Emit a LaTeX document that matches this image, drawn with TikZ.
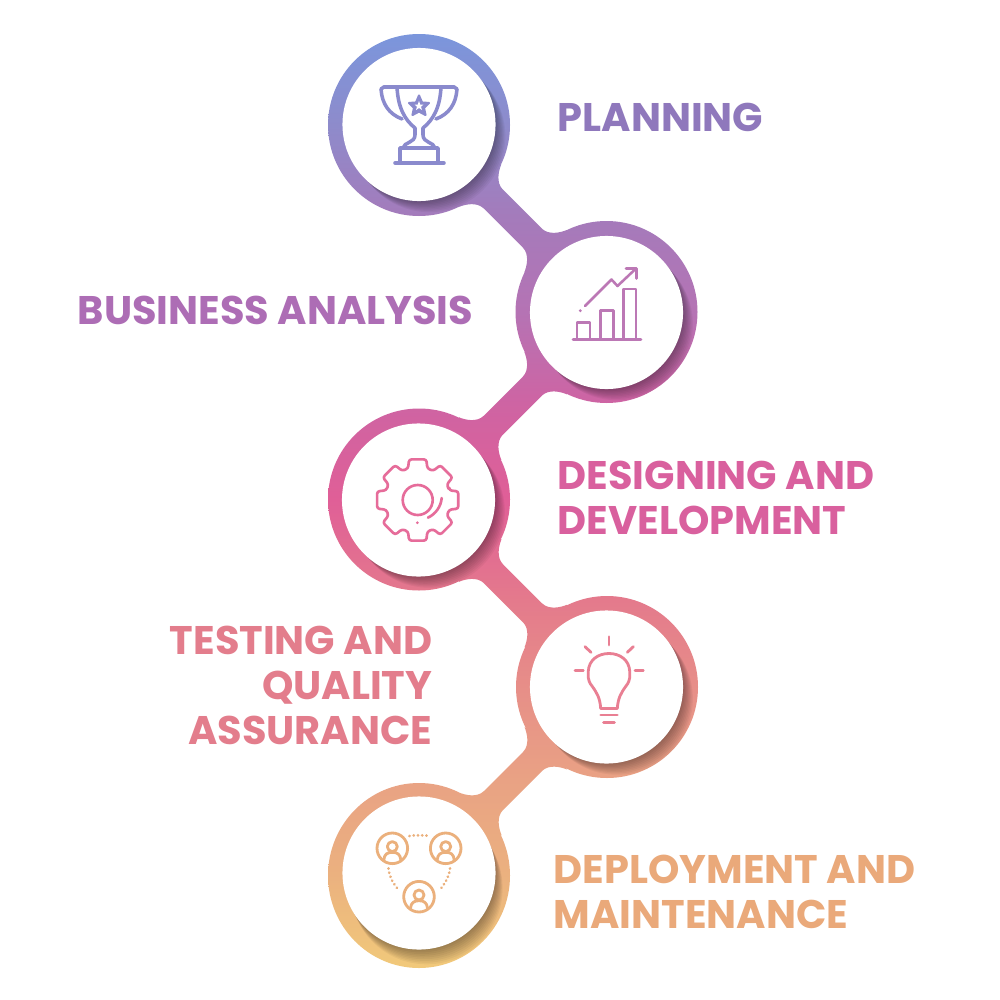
\documentclass[tikz,border=0pt]{standalone}
\usepackage{fontspec}
\setmainfont{Poppins}
\usepackage{xcolor}
\usetikzlibrary{calc}
\definecolor{TrophyInk}{HTML}{8A8ACD}
\definecolor{ChartInk}{HTML}{BC78B5}
\definecolor{GearInk}{HTML}{E66C9A}
\definecolor{BulbInk}{HTML}{E97F93}
\definecolor{PeopleInk}{HTML}{EBB07C}
\definecolor{PlanningText}{HTML}{8F78BC}
\definecolor{BusinessText}{HTML}{AD6DB5}
\definecolor{DesignText}{HTML}{D9609E}
\definecolor{TestingText}{HTML}{E37D8C}
\definecolor{DeployText}{HTML}{EAA97A}
\definecolor{RibbonA}{HTML}{7B96DC}
\definecolor{RibbonB}{HTML}{8E8BCB}
\definecolor{RibbonC}{HTML}{A47BBB}
\definecolor{RibbonD}{HTML}{B573B4}
\definecolor{RibbonE}{HTML}{CE64A3}
\definecolor{RibbonF}{HTML}{E05F97}
\definecolor{RibbonG}{HTML}{E47A8C}
\definecolor{RibbonH}{HTML}{E78F88}
\definecolor{RibbonI}{HTML}{E9A284}
\definecolor{RibbonJ}{HTML}{EBB17F}
\definecolor{RibbonK}{HTML}{F1C97A}
\pgfdeclareverticalshading{ribbon}{100bp}{%
  color(0bp)=(RibbonK); color(25bp)=(RibbonK); color(29.98bp)=(RibbonJ);
  color(35.06bp)=(RibbonI); color(39.88bp)=(RibbonH); color(44.7bp)=(RibbonG);
  color(50.05bp)=(RibbonF); color(55.25bp)=(RibbonE); color(60.1bp)=(RibbonD);
  color(65.26bp)=(RibbonC); color(70.1bp)=(RibbonB); color(75bp)=(RibbonA);
  color(100bp)=(RibbonA)}
\newcommand{\StepLabel}{\fontsize{11.35}{12.8}\selectfont\bfseries}
\tikzset{
  disc/.style={circle,fill=white,minimum size=1.53cm,inner sep=0pt},
  step label/.style={font=\StepLabel,inner sep=0pt},
  icon line/.style={line width=0.8pt,line cap=round,line join=round}
}
% neck running down and to the right, wound like the rings
\newcommand{\neckright}[2]{
  ({#1+54},{#2+11.5}) -- ({#1+11.5},{#2+54})
  .. controls ({#1+14},{#2+48}) and ({#1+17},{#2+36}) .. ({#1+10},{#2+29})
  -- ({#1-29},{#2-10})
  .. controls ({#1-36},{#2-17}) and ({#1-48},{#2-14}) .. ({#1-54},{#2-11.5})
  -- ({#1-11.5},{#2-54})
  .. controls ({#1-14},{#2-48}) and ({#1-17},{#2-36}) .. ({#1-10},{#2-29})
  -- ({#1+29},{#2+10})
  .. controls ({#1+36},{#2+17}) and ({#1+48},{#2+14}) .. ({#1+54},{#2+11.5}) -- cycle
}
% same neck mirrored, so the point order runs the other way
\newcommand{\neckleft}[2]{
  ({#1-54},{#2+11.5})
  .. controls ({#1-48},{#2+14}) and ({#1-36},{#2+17}) .. ({#1-29},{#2+10})
  -- ({#1+10},{#2-29})
  .. controls ({#1+17},{#2-36}) and ({#1+14},{#2-48}) .. ({#1+11.5},{#2-54})
  -- ({#1+54},{#2-11.5})
  .. controls ({#1+48},{#2-14}) and ({#1+36},{#2-17}) .. ({#1+29},{#2-10})
  -- ({#1-10},{#2+29})
  .. controls ({#1-17},{#2+36}) and ({#1-14},{#2+48}) .. ({#1-11.5},{#2+54})
  -- cycle
}
\newcommand{\ribbonpath}{
  (419,125) circle[radius=91]
  (606.5,312) circle[radius=91]
  (419,499.5) circle[radius=91]
  (607,687) circle[radius=91]
  (419,875.5) circle[x radius=91,y radius=92.5]
  \neckright{512.75}{218.5}
  \neckleft{512.75}{405.75}
  \neckright{513}{593.25}
  \neckleft{513}{781}
}
\newcommand{\discshadow}[4]{
  \foreach \k in {1,...,9}{
    \fill[black,opacity=0.045] ({#1+\k*#3},{#2+\k*#4}) circle[radius=76];
  }
}

\begin{document}
\begin{tikzpicture}[x=0.01cm,y=-0.01cm]
  \path[use as bounding box,fill=white] (0,0) rectangle (1000,1000);

  \path[shading=ribbon] \ribbonpath;
  \begin{scope}
    \clip \ribbonpath;
    \discshadow{419}{124.5}{1.15}{1.3}
    \discshadow{606.5}{312.5}{1.15}{1.3}
    \discshadow{418.5}{500}{1.15}{1.3}
    \discshadow{606.5}{687}{1.15}{1.3}
    \discshadow{419}{873}{0.85}{1.7}
  \end{scope}

  \node[disc] (planning disc) at (419,124.5) {};
  \node[disc] (business disc) at (606.5,312.5) {};
  \node[disc] (design disc) at (418.5,500) {};
  \node[disc] (testing disc) at (606.5,687) {};
  \node[disc] (deploy disc) at (419,873) {};

  % trophy
  \begin{scope}[icon line,draw=TrophyInk,line width=1pt]
    \draw (384,87) -- (454,87);
    \draw (381,89) .. controls (382,104) and (389,114) .. (402,119);
    \draw (457,89) .. controls (456,104) and (449,114) .. (436,119);
    \draw (381,89) -- (384,87) (457,89) -- (454,87);
    \draw (397,87) .. controls (398,108) and (405,120) .. (415,128)
      -- (415,135) .. controls (415,143) and (404,142) .. (403,148);
    \draw (441,87) .. controls (440,108) and (433,120) .. (423,128)
      -- (423,135) .. controls (423,143) and (434,142) .. (435,148);
    \draw (400,163) -- (400,148) -- (438,148) -- (438,163);
    \draw (395,163) -- (444,163);
    \draw[fill=TrophyInk,line width=0.6pt]
      (419,95.5) -- (422,102.5) -- (429,103) -- (424,108) -- (425.5,115)
      -- (419,111.5) -- (412.5,115) -- (414,108) -- (409,103) -- (416,102.5) -- cycle;
    \fill[white] (419,101) -- (420.2,104.5) -- (423.5,104.5) -- (421,106.7)
      -- (422,110) -- (419,108) -- (416,110) -- (417,106.7) -- (414.5,104.5)
      -- (417.8,104.5) -- cycle;
  \end{scope}

  % chart
  \begin{scope}[icon line,draw=ChartInk,line width=0.72pt]
    \draw (573,339.5) -- (641,339.5);
    \draw (577,339.5) -- (577,322.5) -- (590,322.5) -- (590,339.5);
    \draw (600.5,339.5) -- (600.5,310.5) -- (613.5,310.5) -- (613.5,339.5);
    \draw (623.5,339.5) -- (623.5,289) -- (636,289) -- (636,339.5);
    \draw (585,306) -- (611.5,279.5) -- (617.5,286) -- (636,268.5);
    \draw (626,268.5) -- (636.5,268.5) -- (636.5,278.5);
    \fill[ChartInk] (580.3,310.7) circle[radius=1.6];
  \end{scope}

  % gear
  \begin{scope}[icon line,draw=GearInk,line width=0.75pt]
    \draw[rounded corners=0.7pt] ($(417.7,500)+(-17:33)$)
      \foreach \a in {0,45,...,315}{
        -- ($(417.7,500)+({\a-17}:33)$) -- ($(417.7,500)+({\a-12}:41.5)$)
        -- ($(417.7,500)+({\a+12}:41.5)$) -- ($(417.7,500)+({\a+17}:33)$)
      } -- cycle;
    \draw (417.7,500) circle[radius=15];
    \draw (441.7,498) arc[start angle=-5,end angle=-65,radius=24,y radius=-24];
    \fill[GearInk] (417.3,522.7) circle[radius=1.5];
  \end{scope}

  % bulb
  \begin{scope}[icon line,draw=BulbInk]
    \draw (600.7,708.5) .. controls (600,698) and (597,693) .. (592,686)
      .. controls (587,680) and (588.3,675) .. (588.3,671)
      .. controls (589,660) and (598,653.5) .. (609,653.5)
      .. controls (620,653.5) and (629,660) .. (629.7,671)
      .. controls (629.7,675) and (631,680) .. (626,686)
      .. controls (621,693) and (618,698) .. (617.3,708.5) -- cycle;
    \draw (600.7,715) -- (617.3,715);
    \draw (603.5,722.3) -- (614.5,722.3);
    \draw (609,636.7) -- (609,645);
    \draw (585,646.7) -- (591,652.3);
    \draw (633.3,646.7) -- (627.3,652.3);
    \draw (575,670.3) -- (583.3,670.3);
    \draw (635,670.3) -- (643.3,670.3);
  \end{scope}

  % people
  \begin{scope}[icon line,draw=PeopleInk]
    \foreach \px/\py in {392.3/848.3,445.7/848.3,419/896.7}{
      \draw (\px,\py) circle[radius=15.3];
      \draw ({\px},{\py-1.7}) circle[radius=5];
      \draw ({\px-8.5},{\py+11.5}) .. controls ({\px-8},{\py+6}) and ({\px-5},{\py+4}) .. ({\px},{\py+4})
        .. controls ({\px+5},{\py+4}) and ({\px+8},{\py+6}) .. ({\px+8.5},{\py+11.5});
    }
    \draw[dash pattern=on 0.01pt off 1.2pt,line width=0.85pt] (409.5,836) .. controls (414,835) and (424,835) .. (430,836);
    \draw[dash pattern=on 0.01pt off 1.2pt,line width=0.85pt] (388.5,868.5) .. controls (389.5,877) and (392,882) .. (399.5,891);
    \draw[dash pattern=on 0.01pt off 1.2pt,line width=0.85pt] (450,868.5) .. controls (449,877) and (446,882) .. (439,891);
  \end{scope}

  \node[step label,anchor=west,text=PlanningText] (planning) at (557,117) {PLANNING};
  \node[step label,anchor=east,text=BusinessText] (business) at (474,310) {BUSINESS ANALYSIS};
  \node[step label,anchor=west,align=left,text=DesignText] (design) at (557,497.5) {DESIGNING AND\\DEVELOPMENT};
  \node[step label,anchor=east,align=right,text=TestingText] (testing) at (433,685) {TESTING AND\\QUALITY\\ASSURANCE};
  \node[step label,anchor=west,align=left,text=DeployText] (deploy) at (553,891.5) {DEPLOYMENT AND\\MAINTENANCE};
\end{tikzpicture}
\end{document}
